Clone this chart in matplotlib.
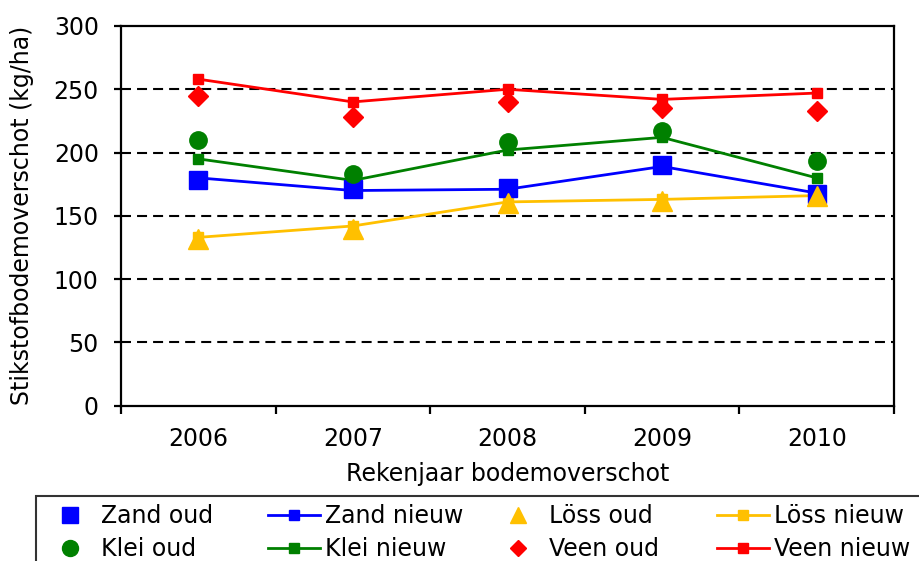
import numpy as np
import matplotlib.pyplot as plt
from matplotlib.lines import Line2D

# Data
jaren = ["2006", "2007", "2008", "2009", "2010"]

zand_oud = [178, 171, 172, 190, 167]
zand_nieuw = [180, 170, 171, 189, 168]
loss_oud = [132, 140, 160, 162, 166]
loss_nieuw = [133, 142, 161, 163, 166]
klei_oud = [210, 183, 208, 217, 193]
klei_nieuw = [195, 178, 202, 212, 180]
veen_oud = [245, 228, 240, 235, 233]
veen_nieuw = [258, 240, 250, 242, 247]

BLAUW = "#0000FF"
GROEN = "#008000"
GEEL = "#FFC000"
ROOD = "#FF0000"
FS = 17

plt.rcParams['font.family'] = ['DejaVu Sans']

fig = plt.figure(figsize=(9.19, 5.61), dpi=100)
ax = fig.add_axes([0.1317, 0.2768, 0.8411, 0.6769])

x = np.arange(len(jaren))

# gestippelde hulplijnen
for yv in [50, 100, 150, 200, 250]:
    ax.axhline(yv, color="black", lw=1.5, ls=(0, (4.8, 2.9)), zorder=1)

# lijnen (nieuw)
lijn_kw = dict(lw=2.0, marker="s", markersize=7, zorder=3)
ax.plot(x, zand_nieuw, color=BLAUW, **lijn_kw)
ax.plot(x, klei_nieuw, color=GROEN, **lijn_kw)
ax.plot(x, loss_nieuw, color=GEEL, **lijn_kw)
ax.plot(x, veen_nieuw, color=ROOD, **lijn_kw)

# losse punten (oud)
ax.plot(x, zand_oud, ls="none", marker="s", markersize=13, color=BLAUW, zorder=4)
ax.plot(x, klei_oud, ls="none", marker="o", markersize=12.5, color=GROEN, zorder=4)
ax.plot(x, loss_oud, ls="none", marker="^", markersize=15, color=GEEL, zorder=5)
ax.plot(x, veen_oud, ls="none", marker="D", markersize=10.5, color=ROOD, zorder=4)

ax.set_xlim(-0.5, len(jaren) - 0.5)
ax.set_ylim(0, 300)
ax.set_yticks(range(0, 301, 50))
ax.set_xticks(np.arange(-0.5, len(jaren)), labels=[""] * (len(jaren) + 1))
ax.set_xticks(x, labels=jaren, minor=True)
ax.tick_params(axis="x", which="minor", length=0, pad=15, labelsize=FS)
ax.tick_params(axis="x", which="major", length=5.5, width=1.6, direction="out")
ax.tick_params(axis="y", length=5, width=1.6, direction="out", labelsize=FS, pad=11)
for sp in ax.spines.values():
    sp.set_linewidth(1.6)

ax.set_xlabel("Rekenjaar bodemoverschot", fontsize=FS)
ax.set_ylabel("Stikstofbodemoverschot (kg/ha)", fontsize=FS)
ax.xaxis.set_label_coords(0.5, -0.148)
ax.yaxis.set_label_coords(-0.112, 0.5)

# legenda, kolomsgewijs gevuld
def punt(c, m, s):
    return Line2D([], [], ls="none", marker=m, color=c, markersize=s)

def lijn(c):
    return Line2D([], [], color=c, lw=2.0, marker="s", markersize=7)

handles = [punt(BLAUW, "s", 11.5), punt(GROEN, "o", 11.5),
           lijn(BLAUW), lijn(GROEN),
           punt(GEEL, "^", 12), punt(ROOD, "D", 8.5),
           lijn(GEEL), lijn(ROOD)]
labels = ["Zand oud", "Klei oud", "Zand nieuw", "Klei nieuw",
          "Löss oud", "Veen oud", "Löss nieuw", "Veen nieuw"]
leg = fig.legend(handles, labels, ncol=4, loc="upper left",
                 bbox_to_anchor=(36 / 919, 1 - 496 / 561), fontsize=FS,
                 frameon=True, fancybox=False, edgecolor="black",
                 handlelength=2.2, handletextpad=0.21, columnspacing=1.23,
                 labelspacing=0.4, borderpad=0.33, borderaxespad=0)
leg.get_frame().set_linewidth(1.5)
# kolommen even breed, zoals in het origineel
leg._legend_handle_box.mode = "equal"

fig.savefig("out.png", dpi=100)
